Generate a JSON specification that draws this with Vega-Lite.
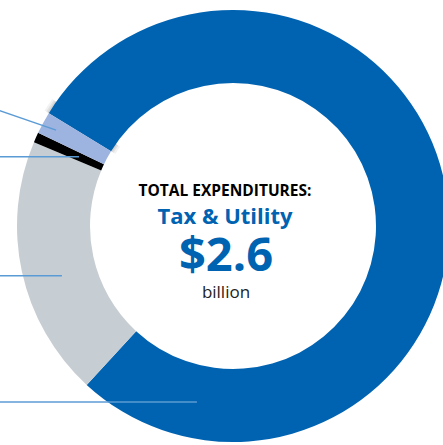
{
  "$schema": "https://vega.github.io/schema/vega-lite/v6.json",
  "width": 466,
  "height": 452,
  "padding": 0,
  "autosize": {"type": "none"},
  "background": "white",
  "config": {"view": {"stroke": null}},
  "datasets": {
    "segments": [
      {"category": "Blue", "share": 78.1, "rank": 1},
      {"category": "Gray", "share": 19.5, "rank": 2},
      {"category": "Black", "share": 0.75, "rank": 3},
      {"category": "Light blue", "share": 1.65, "rank": 4}
    ],
    "ring": [{"share": 1}],
    "leaders": [
      {"x": -1.08, "y": 0.534, "x2": -0.819, "y2": 0.444},
      {"x": -1.08, "y": 0.321, "x2": -0.713, "y2": 0.321},
      {"x": -1.08, "y": -0.230, "x2": -0.792, "y2": -0.230},
      {"x": -1.08, "y": -0.815, "x2": -0.167, "y2": -0.815}
    ],
    "t1": [{"label": "TOTAL EXPENDITURES:"}],
    "t2": [{"label": "Tax & Utility"}],
    "t3": [{"label": "$2.6"}],
    "t4": [{"label": "billion"}]
  },
  "layer": [
    {
      "data": {"name": "ring"},
      "mark": {"type": "arc", "outerRadius": 221, "innerRadius": 138, "color": "#000", "opacity": 0.05},
      "encoding": {"theta": {"field": "share", "type": "quantitative"}}
    },
    {
      "data": {"name": "ring"},
      "mark": {"type": "arc", "outerRadius": 219, "innerRadius": 140, "color": "#000", "opacity": 0.06},
      "encoding": {"theta": {"field": "share", "type": "quantitative"}}
    },
    {
      "data": {"name": "ring"},
      "mark": {"type": "arc", "outerRadius": 217.5, "innerRadius": 141.5, "color": "#000", "opacity": 0.07},
      "encoding": {"theta": {"field": "share", "type": "quantitative"}}
    },
    {
      "data": {"name": "segments"},
      "mark": {"type": "arc", "outerRadius": 216, "innerRadius": 143},
      "encoding": {
        "theta": {"field": "share", "type": "quantitative", "scale": {"range": [5.262, 11.545]}},
        "order": {"field": "rank", "type": "quantitative"},
        "color": {
          "field": "category", "type": "nominal", "legend": null,
          "scale": {"domain": ["Blue", "Gray", "Black", "Light blue"], "range": ["#0063B1", "#C7CED3", "#000000", "#9DB3E0"]}
        }
      }
    },
    {
      "data": {"name": "leaders"},
      "mark": {"type": "rule", "color": "#5B9BD5", "strokeWidth": 1.5},
      "encoding": {
        "x": {"field": "x", "type": "quantitative", "axis": null, "scale": {"domain": [-1.0787, 1.0787], "nice": false, "zero": false}},
        "y": {"field": "y", "type": "quantitative", "axis": null, "scale": {"domain": [-1.0463, 1.0463], "nice": false, "zero": false}},
        "x2": {"field": "x2"},
        "y2": {"field": "y2"}
      }
    },
    {
      "data": {"name": "t1"},
      "mark": {"type": "text", "font": "Open Sans", "fontWeight": "bold", "fontSize": 15.5, "color": "#000000", "baseline": "alphabetic", "align": "center", "dx": -8, "dy": -30},
      "encoding": {"text": {"field": "label"}}
    },
    {
      "data": {"name": "t2"},
      "mark": {"type": "text", "font": "Open Sans", "fontWeight": "bold", "fontSize": 22, "color": "#0063B1", "baseline": "alphabetic", "align": "center", "dx": -8, "dy": -2},
      "encoding": {"text": {"field": "label"}}
    },
    {
      "data": {"name": "t3"},
      "mark": {"type": "text", "font": "Open Sans", "fontWeight": "bold", "fontSize": 47, "color": "#0063B1", "baseline": "alphabetic", "align": "center", "dx": -7, "dy": 45},
      "encoding": {"text": {"field": "label"}}
    },
    {
      "data": {"name": "t4"},
      "mark": {"type": "text", "font": "Open Sans", "fontSize": 17, "color": "#222222", "baseline": "alphabetic", "align": "center", "dx": -7, "dy": 72},
      "encoding": {"text": {"field": "label"}}
    }
  ]
}
